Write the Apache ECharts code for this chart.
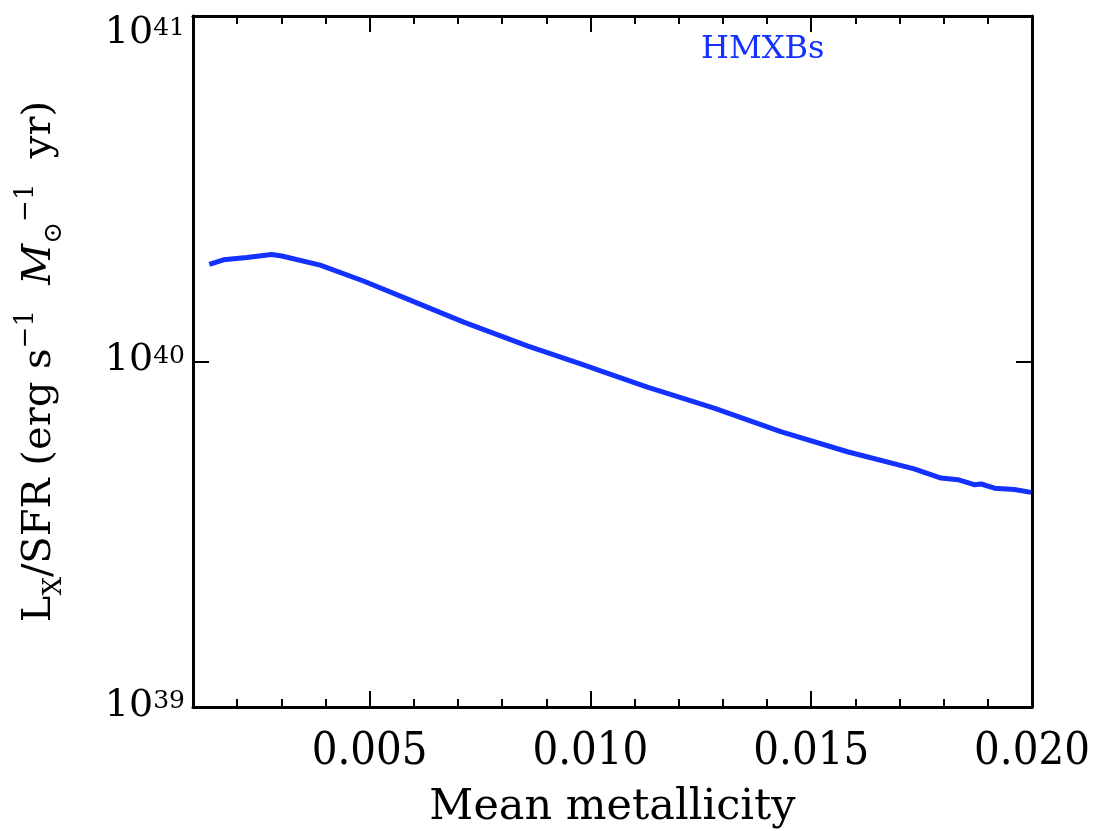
<!DOCTYPE html>
<html>
<head>
<meta charset="utf-8">
<script src="https://cdn.jsdelivr.net/npm/echarts@6/dist/echarts.min.js"></script>
<style>
html, body { margin: 0; padding: 0; background: #fff; }
#main { width: 1103px; height: 831px; }
</style>
</head>
<body>
<div id="main"></div>
<script>
// mean metallicity (x) and Lx/SFR in erg s^-1 Msun^-1 yr (y)
var metallicity = [0.00137, 0.00169, 0.00222, 0.00278, 0.00301, 0.00388, 0.00486, 0.00600,
	0.00713, 0.00857, 0.00978, 0.01023, 0.01129, 0.01280, 0.01431, 0.01582,
	0.01733, 0.01794, 0.01832, 0.01869, 0.01885, 0.01915, 0.01960, 0.01998];
var lxSfr = [1.91e40, 1.97e40, 2.00e40, 2.04e40, 2.02e40, 1.90e40, 1.71e40, 1.49e40,
	1.30e40, 1.11e40, 9.85e39, 9.40e39, 8.43e39, 7.33e39, 6.27e39, 5.48e39,
	4.89e39, 4.60e39, 4.55e39, 4.40e39, 4.42e39, 4.30e39, 4.26e39, 4.18e39];

var xLabelTicks = [0.005, 0.010, 0.015, 0.020];
var xMajorTicks = [0.005, 0.010, 0.015];
var seriesName = 'HMXBs';

var blue = '#1432ff';
var serif = '"DejaVu Serif", "Liberation Serif", serif';
var condensed = '"DejaVu Serif Condensed", "DejaVu Serif", serif';

var chart = echarts.init(document.getElementById('main'));

var line = { lineStyle: { color: '#000', width: 3 } };

function pairs() {
	var out = [];
	for (var i = 0; i < metallicity.length; i++) out.push([metallicity[i], lxSfr[i]]);
	return out;
}

var option = {
	animation: false,
	backgroundColor: '#fff',
	title: {
		text: seriesName,
		left: 696, top: 29,
		textStyle: { color: blue, fontFamily: serif, fontSize: 32, fontWeight: 'normal' }
	},
	grid: [
		{ left: 193, right: 71, top: 16, bottom: 124, outerBoundsMode: 'none' },
		{ left: 193, right: 71, top: 16, bottom: 124, outerBoundsMode: 'none' }
	],
	xAxis: [
		{
			gridIndex: 0, type: 'value', position: 'bottom',
			min: 0.001, max: 0.020, interval: 0.001,
			axisLine: line,
			axisTick: { inside: true, length: 8, lineStyle: { color: '#000', width: 2 } },
			axisLabel: {
				customValues: xLabelTicks,
				formatter: function (v) { return v.toFixed(3); },
				color: '#000', fontFamily: condensed, fontSize: 45, margin: 23
			},
			splitLine: { show: false },
			name: 'Mean metallicity', nameLocation: 'middle', nameGap: 79,
			nameTextStyle: { color: '#000', fontFamily: serif, fontSize: 43 }
		},
		{
			gridIndex: 0, type: 'value', position: 'top',
			min: 0.001, max: 0.020, interval: 0.001,
			axisLine: line,
			axisTick: { inside: true, length: 8, lineStyle: { color: '#000', width: 2 } },
			axisLabel: { show: false },
			splitLine: { show: false }
		},
		{
			gridIndex: 1, type: 'value', position: 'bottom',
			min: 0.001, max: 0.020,
			axisLine: { show: false },
			axisTick: { inside: true, length: 16, customValues: xMajorTicks, lineStyle: { color: '#000', width: 2 } },
			axisLabel: { show: false },
			splitLine: { show: false }
		},
		{
			gridIndex: 1, type: 'value', position: 'top',
			min: 0.001, max: 0.020,
			axisLine: { show: false },
			axisTick: { inside: true, length: 16, customValues: xMajorTicks, lineStyle: { color: '#000', width: 2 } },
			axisLabel: { show: false },
			splitLine: { show: false }
		}
	],
	yAxis: [
		{
			gridIndex: 0, type: 'log', logBase: 10, position: 'left',
			min: 1e39, max: 1e41,
			axisLine: line,
			axisTick: { inside: true, length: 16, lineStyle: { color: '#000', width: 2 } },
			minorTick: { show: false },
			axisLabel: {
				formatter: function (v) { return '{b|10}{s|' + Math.round(Math.log10(v)) + '}'; },
				margin: 8,
				verticalAlignMinLabel: 'bottom',
				verticalAlignMaxLabel: 'top',
				rich: {
					b: { fontFamily: serif, fontSize: 38, color: '#000', lineHeight: 36, verticalAlign: 'bottom' },
					s: { fontFamily: serif, fontSize: 25, color: '#000', lineHeight: 36, verticalAlign: 'top' }
				}
			},
			splitLine: { show: false },
			name: '{n|L}{sub|X}{n|/SFR (erg s}{sup|−1}{n|  }{it|M}{sub|⊙}{sup|−1}{n|  yr)}',
			nameLocation: 'middle', nameRotate: 90, nameGap: 126,
			nameTextStyle: {
				rich: {
					n: { fontFamily: serif, fontSize: 40, color: '#000', lineHeight: 54 },
					it: { fontFamily: serif, fontSize: 40, fontStyle: 'italic', color: '#000', lineHeight: 54 },
					sub: { fontFamily: serif, fontSize: 26, color: '#000', lineHeight: 54, verticalAlign: 'bottom' },
					sup: { fontFamily: serif, fontSize: 26, color: '#000', lineHeight: 54, verticalAlign: 'top' }
				}
			}
		},
		{
			gridIndex: 0, type: 'log', logBase: 10, position: 'right',
			min: 1e39, max: 1e41,
			axisLine: line,
			axisTick: { inside: true, length: 16, lineStyle: { color: '#000', width: 2 } },
			minorTick: { show: false },
			axisLabel: { show: false },
			splitLine: { show: false }
		},
		{
			gridIndex: 1, type: 'log', logBase: 10, show: false,
			min: 1e39, max: 1e41
		}
	],
	series: [
		{
			name: seriesName,
			type: 'line',
			xAxisIndex: 0, yAxisIndex: 0,
			data: pairs(),
			showSymbol: false,
			smooth: false,
			lineStyle: { color: blue, width: 5 }
		}
	]
};

chart.setOption(option);
</script>
</body>
</html>
